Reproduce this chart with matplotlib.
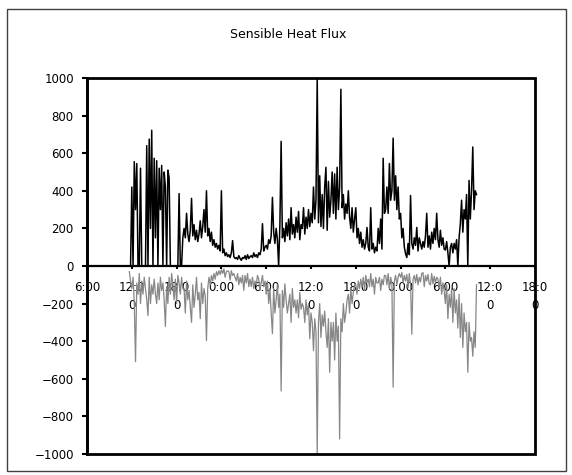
import matplotlib
matplotlib.use("Agg")
import matplotlib.pyplot as plt
import numpy as np
from matplotlib.patches import Rectangle

# Time axis: hours after 6:00 on day 1, one reading every 10 minutes
START_HOUR = 5 + 40 / 60
STEP_HOURS = 10 / 60

# Sensible heat flux, black series (one row per hour from hour 6, 6 readings each)
black_flux = [
    0, 0,
    420, 0, 555, 300, 545, 0,
    0, 520, 0, 0, 0, 0,
    640, 0, 675, 200, 722, 0,
    573, 150, 560, 0, 520, 300,
    535, 0, 500, 420, 0, 510,
    470, 0, 0, 0, 0, 0,
    0, 0, 385, 0, 0, 150,
    200, 150, 280, 170, 130, 190,
    360, 160, 220, 140, 190, 130,
    170, 240, 150, 210, 300, 180,
    400, 160, 200, 130, 180, 110,
    140, 100, 120, 90, 110, 80,
    400, 70, 90, 55, 70, 50,
    60, 45, 70, 135, 50, 40,
    45, 35, 55, 40, 30, 45,
    40, 55, 35, 60, 40, 50,
    55, 45, 70, 50, 60, 45,
    70, 60, 90, 225, 80, 100,
    110, 90, 140, 120, 160, 365,
    180, 120, 200, 140, 0, 220,
    663, 150, 200, 130, 230, 160,
    250, 140, 310, 170, 220, 150,
    260, 180, 290, 140, 220, 200,
    310, 170, 260, 200, 300, 210,
    280, 230, 420, 250, 350, 1000,
    230, 480, 210, 380, 200, 420,
    525, 190, 450, 260, 350, 500,
    280, 490, 250, 525, 300, 420,
    940, 310, 380, 250, 330, 280,
    400, 260, 200, 310, 180, 250,
    310, 150, 200, 120, 180, 100,
    140, 90, 120, 205, 100, 80,
    310, 90, 120, 70, 100, 80,
    200, 120, 250, 90, 573, 280,
    300, 420, 280, 545, 350, 400,
    680, 350, 480, 300, 420, 250,
    280, 150, 200, 100, 65, 45,
    120, 60, 375, 120, 90, 150,
    110, 205, 80, 150, 120, 90,
    130, 100, 160, 280, 100, 160,
    90, 180, 120, 200, 140, 280,
    140, 100, 190, 110, 150, 90,
    85, 130, 70, 0, 100, 120,
    70, 120, 90, 140, 0, 150,
    225, 350, 180, 300, 250, 380,
    0, 455, 250, 400, 633, 300,
    400, 380,
]

# Sensible heat flux, grey series (same time stamps)
grey_flux = [
    -30, -80,
    -120, -60, -200, -509, -90, -150,
    -40, -200, -80, -150, -60, -120,
    -180, -264, -60, -200, -100, -150,
    -70, -150, -200, -90, -180, -60,
    -130, -90, -180, -322, -110, -200,
    -60, -150, -40, -100, -180, -70,
    -200, -50, -90, -150, -60, -120,
    -120, -250, -80, -180, -130, -220,
    -300, -100, -220, -150, -60, -180,
    -140, -280, -90, -200, -120, -160,
    -397, -120, -60, -100, -50, -80,
    -40, -70, -30, -50, -25, -45,
    -20, -40, -15, -60, -30, -25,
    -30, -75, -25, -50, -40, -60,
    -80, -40, -100, -60, -90, -50,
    -130, -50, -90, -40, -110, -70,
    -110, -60, -120, -80, -100, -50,
    -70, -130, -90, -50, -110, -80,
    -150, -80, -200, -120, -250, -360,
    -120, -250, -180, -100, -220, -150,
    -665, -130, -220, -95, -180, -250,
    -200, -150, -300, -120, -220, -180,
    -250, -180, -275, -140, -230, -200,
    -220, -300, -180, -260, -200, -387,
    -250, -300, -450, -280, -350, -1000,
    -300, -200, -380, -260, -320, -240,
    -350, -433, -280, -565, -300, -400,
    -300, -500, -250, -400, -320, -920,
    -280, -350, -200, -300, -250, -180,
    -150, -250, -120, -200, -140, -100,
    -100, -150, -80, -120, -70, -110,
    -60, -130, -50, -90, -70, -110,
    -40, -110, -70, -150, -60, -90,
    -90, -60, -130, -70, -100, -50,
    -50, -100, -40, -120, -60, -90,
    -645, -80, -50, -100, -60, -40,
    -60, -35, -90, -50, -80, -45,
    -115, -40, -100, -363, -70, -50,
    -90, -45, -100, -60, -85, -40,
    -35, -110, -50, -80, -45, -95,
    -100, -40, -95, -55, -90, -60,
    -70, -115, -60, -150, -90, -130,
    -200, -100, -280, -150, -220, -120,
    -300, -120, -250, -180, -330, -150,
    -380, -200, -433, -250, -350, -300,
    -565, -300, -400, -380, -480, -350,
    -433, -100,
]

tick_hours = [0, 6, 12, 18, 24, 30, 36, 42, 48, 54, 60]
tick_labels = ["6:00", "12:0\n0", "18:0\n0", "0:00", "6:00", "12:0\n0",
               "18:0\n0", "0:00", "6:00", "12:0\n0", "18:0\n0"]
y_ticks = list(range(-1000, 1001, 200))

hours = START_HOUR + STEP_HOURS * np.arange(len(black_flux))

W, H = 572, 475
fig = plt.figure(figsize=(W / 100, H / 100), dpi=100)
ax = fig.add_axes([87 / W, 1 - 454 / H, 448 / W, 376 / H])

ax.plot(hours, grey_flux, color="#878787", lw=0.9, zorder=2)
ax.plot(hours, black_flux, color="black", lw=1.1, zorder=3)

ax.set_xlim(0, 60)
ax.set_ylim(-1000, 1000)

# x axis crosses at zero, plot area gets a heavy frame
ax.spines["bottom"].set_position(("data", 0))
ax.spines["bottom"].set_linewidth(1.6)
for side in ("top", "right"):
    ax.spines[side].set_visible(False)
ax.spines["left"].set_linewidth(1.8)
ax.add_patch(Rectangle((0, 0), 1, 1, transform=ax.transAxes, fill=False,
                       ec="black", lw=2.0, clip_on=False, zorder=5))

ax.set_xticks(tick_hours)
ax.set_xticklabels(tick_labels)
ax.set_yticks(y_ticks)
ax.tick_params(axis="x", direction="out", length=2.5, width=1.5, pad=8,
               labelsize=8.5, colors="black")
ax.tick_params(axis="y", direction="out", length=3.5, width=1.5, pad=6,
               labelsize=8.5)
for lbl in ax.get_xticklabels():
    lbl.set_linespacing(1.55)

fig.text(0.503, 1 - 35 / H, "Sensible Heat Flux", ha="center", va="center",
         fontsize=9)

# outer chart border
fig.patches.append(Rectangle((7 / W, 1 - 471 / H), 559 / W, 462 / H,
                             transform=fig.transFigure, fill=False,
                             ec="#404040", lw=1.0))

fig.savefig("out.png", dpi=100)
